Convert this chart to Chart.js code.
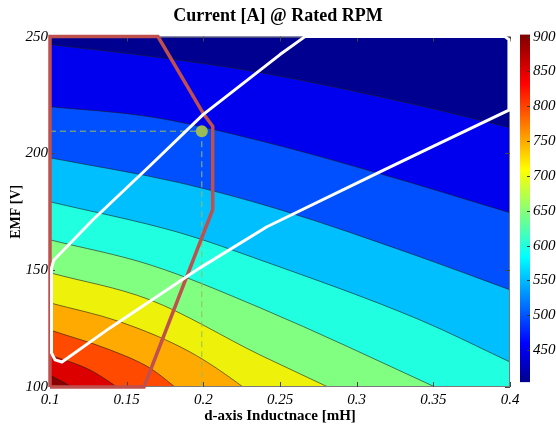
<!DOCTYPE html>
<html><head><meta charset="utf-8">
<script src="https://cdn.jsdelivr.net/npm/chart.js@4/dist/chart.umd.min.js"></script>
<style>html,body{margin:0;padding:0;background:#fff}#wrap{width:556px;height:429px;position:relative}</style>
</head><body><div id="wrap"><canvas id="c" width="556" height="429"></canvas></div>
<script>
// ---------- DATA ----------
const xTicks = [0.1, 0.15, 0.2, 0.25, 0.3, 0.35, 0.4];
const xTickLabels = ['0.1', '0.15', '0.2', '0.25', '0.3', '0.35', '0.4'];
const yTicks = [100, 150, 200, 250];
const yTickLabels = ['100', '150', '200', '250'];
const cbTicks = [450, 500, 550, 600, 650, 700, 750, 800, 850, 900];
const cbRange = [404, 900];
const levels = [450, 500, 550, 600, 650, 700, 750, 800, 850, 900];

// contour boundaries (x = Ld [mH], y = EMF [V])
const contour450 = [[0.1,246.6],[0.1717,241.0],[0.2370,234.6],[0.3413,220.4],[0.4,211.0]];
const contour500 = [[0.1,220.0],[0.1652,215.7],[0.2370,205.4],[0.3152,191.3],[0.4,174.6]];
const contour550 = [[0.1,198.1],[0.1848,187.4],[0.25,175.9],[0.3413,155.7],[0.4,141.6]];
const contour600 = [[0.1,179.3],[0.1848,166.0],[0.2370,154.4],[0.3413,128.7],[0.4,110.7]];
const contour650 = [[0.1,163.0],[0.1652,152.3],[0.2370,133.9],[0.3511,100.0],[0.4,85.0]];
const contour700 = [[0.1,148.9],[0.1652,137.3],[0.2370,113.7],[0.2813,100.0],[0.3413,80.7]];
const contour750 = [[0.1,136.0],[0.1457,127.9],[0.1913,115.0],[0.2259,100.0],[0.2565,83.7]];
const contour800 = [[0.1,124.4],[0.1391,115.9],[0.1652,108.1],[0.1815,100.0],[0.2043,88.0]];
const contour850 = [[0.1,113.7],[0.1261,107.3],[0.1437,100.0],[0.1652,90.1]];
const contour900 = [[0.1,105.1],[0.1143,100.0],[0.1293,93.6]];
const contours = [contour450, contour500, contour550, contour600, contour650, contour700, contour750, contour800, contour850, contour900];

const limitBoundary = [[0.1,100],[0.1,250],[0.1704,250],[0.2004,216.6],[0.2061,211.6],[0.2061,175.9],[0.1613,100],[0.1,100]];
const whiteRegion = [[0.2663,250],[0.3967,250],[0.3993,248.7],[0.3993,218.5],[0.3478,202.4],[0.3152,192.1],[0.2415,168.6],[0.1978,151.0],[0.1391,125.3],[0.1078,110.7],[0.1033,111.6],[0.101,114.6],[0.101,151.0],[0.1026,154.4],[0.128,171.6],[0.1652,194.7],[0.1998,216.6],[0.25,242.3],[0.2663,250]];
const ratedPoint = [[0.199, 209.5]];

// ---------- STYLE ----------
const topColor = '#000090';
const bandColors = ['#0000EE','#0050FF','#00BFFF','#20FFDF','#80FF80','#EEF20A','#FFAA00','#FF4A00','#DD0000','#8B0000'];
const jet = [[0,'#00008F'],[0.11,'#0000FF'],[0.36,'#00FFFF'],[0.61,'#FFFF00'],[0.86,'#FF0000'],[1,'#800000']];
const serif = "'Liberation Serif', 'Times New Roman', serif";
const toXY = arr => arr.map(([x, y]) => ({x, y}));

const datasets = [];
contours.forEach((c, i) => {
  datasets.push({
    label: 'c' + levels[i], data: toXY(c), fill: 'start',
    backgroundColor: bandColors[i], borderColor: 'rgba(30,30,30,0.75)', borderWidth: 0.8,
    pointRadius: 0, cubicInterpolationMode: 'monotone', order: 100 - i
  });
});
const rp = ratedPoint[0];
datasets.push({label:'hGuide', data: toXY([[0.1, rp[1]], rp]), borderColor:'#9BBB59', borderWidth:1, borderDash:[6,4], pointRadius:0, fill:false, order:6, clip:5});
datasets.push({label:'vGuide', data: toXY([rp, [rp[0], 100]]), borderColor:'#9BBB59', borderWidth:1, borderDash:[6,4], pointRadius:0, fill:false, order:5, clip:5});
datasets.push({label:'limit', data: toXY(limitBoundary), borderColor:'#C0504D', borderWidth:3.5, pointRadius:0, fill:false, tension:0, order:3, clip:5, borderJoinStyle:'miter'});
datasets.push({label:'region', data: toXY(whiteRegion), borderColor:'#FFFFFF', borderWidth:3, pointRadius:0, fill:false, tension:0, order:2, clip:5, borderJoinStyle:'round'});
datasets.push({label:'point', data: toXY(ratedPoint), showLine:false, pointRadius:6, pointBackgroundColor:'#9BBB59', pointBorderColor:'#9BBB59', pointBorderWidth:0, fill:false, order:1, clip:8});

const framePlugin = {
  id: 'frame',
  beforeDatasetsDraw(chart) {
    const {ctx, chartArea: a} = chart;
    ctx.save(); ctx.fillStyle = topColor;
    ctx.fillRect(a.left, a.top, a.right - a.left, a.bottom - a.top);
    ctx.restore();
  },
  afterDatasetDraw(chart, args) {
    if (chart.data.datasets[args.index].label !== 'c900') return;
    const {ctx, chartArea: a, scales} = chart;
    ctx.save();
    ctx.strokeStyle = '#7a7a7a'; ctx.lineWidth = 1;
    ctx.strokeRect(a.left + 0.5, a.top + 0.5, a.right - a.left - 1, a.bottom - a.top - 1);
    ctx.strokeStyle = '#444'; ctx.beginPath();
    xTicks.forEach(v => { const p = Math.round(scales.x.getPixelForValue(v)) + 0.5;
      ctx.moveTo(p, a.bottom); ctx.lineTo(p, a.bottom - 5); ctx.moveTo(p, a.top); ctx.lineTo(p, a.top + 5); });
    yTicks.forEach(v => { const p = Math.round(scales.y.getPixelForValue(v)) + 0.5;
      ctx.moveTo(a.left, p); ctx.lineTo(a.left + 5, p); ctx.moveTo(a.right, p); ctx.lineTo(a.right - 5, p); });
    ctx.stroke(); ctx.restore();
  },
  afterDraw(chart) {
    const {ctx, chartArea: a, scales} = chart;
    const s = scales.cb;
    const top = s.getPixelForValue(cbRange[1]) - 2, bot = s.getPixelForValue(cbRange[0]);
    const x0 = a.right + 10, w = 10;
    const g = ctx.createLinearGradient(0, bot, 0, top);
    jet.forEach(([t, c]) => g.addColorStop(t, c));
    ctx.save();
    ctx.fillStyle = g; ctx.fillRect(x0, top, w, bot - top);
    ctx.strokeStyle = '#333'; ctx.lineWidth = 1; ctx.beginPath();
    cbTicks.forEach(v => { const p = Math.round(s.getPixelForValue(v)) + 0.5;
      ctx.moveTo(x0 + w, p); ctx.lineTo(x0 + w - 3, p); });
    ctx.stroke(); ctx.restore();
  }
};

const tickFont = {family: serif, size: 15, style: 'italic'};
new Chart(document.getElementById('c'), {
  type: 'line',
  data: {datasets},
  options: {
    responsive: false, animation: false, devicePixelRatio: 1,
    events: [],
    layout: {padding: 0},
    plugins: {
      legend: {display: false}, tooltip: {enabled: false},
      title: {display: true, text: 'Current [A] @ Rated RPM', color: '#000',
        font: {family: serif, size: 18, weight: 'bold'}, padding: {top: 6, bottom: 9}}
    },
    scales: {
      x: {type: 'linear', min: 0.1, max: 0.4,
        afterBuildTicks: s => { s.ticks = xTicks.map(v => ({value: v})); },
        afterFit: s => { s.height = 42; },
        ticks: {font: tickFont, color: '#000', padding: 4, maxRotation: 0,
          callback: (v) => xTickLabels[xTicks.indexOf(v)]},
        grid: {display: false, drawTicks: false}, border: {display: false},
        title: {display: true, text: 'd-axis Inductnace [mH]', color: '#000',
          font: {family: serif, size: 15, weight: 'bold'}, padding: {top: 0, bottom: 4}}
      },
      y: {type: 'linear', min: 100, max: 250, position: 'left',
        afterBuildTicks: s => { s.ticks = yTicks.map(v => ({value: v})); },
        afterFit: s => { s.width = 50; },
        ticks: {font: tickFont, color: '#000', padding: 2,
          callback: (v) => yTickLabels[yTicks.indexOf(v)]},
        grid: {display: false, drawTicks: false}, border: {display: false},
        title: {display: true, text: 'EMF [V]', color: '#000',
          font: {family: serif, size: 14, weight: 'bold'}, padding: {top: 8, bottom: 8}}
      },
      cb: {type: 'linear', min: 397, max: 900, position: 'right',
        afterBuildTicks: s => { s.ticks = cbTicks.map(v => ({value: v})); },
        afterFit: s => { s.width = 46; },
        ticks: {font: tickFont, color: '#000', padding: 23},
        grid: {display: false, drawTicks: false}, border: {display: false}
      }
    }
  },
  plugins: [framePlugin]
});
</script></body></html>
